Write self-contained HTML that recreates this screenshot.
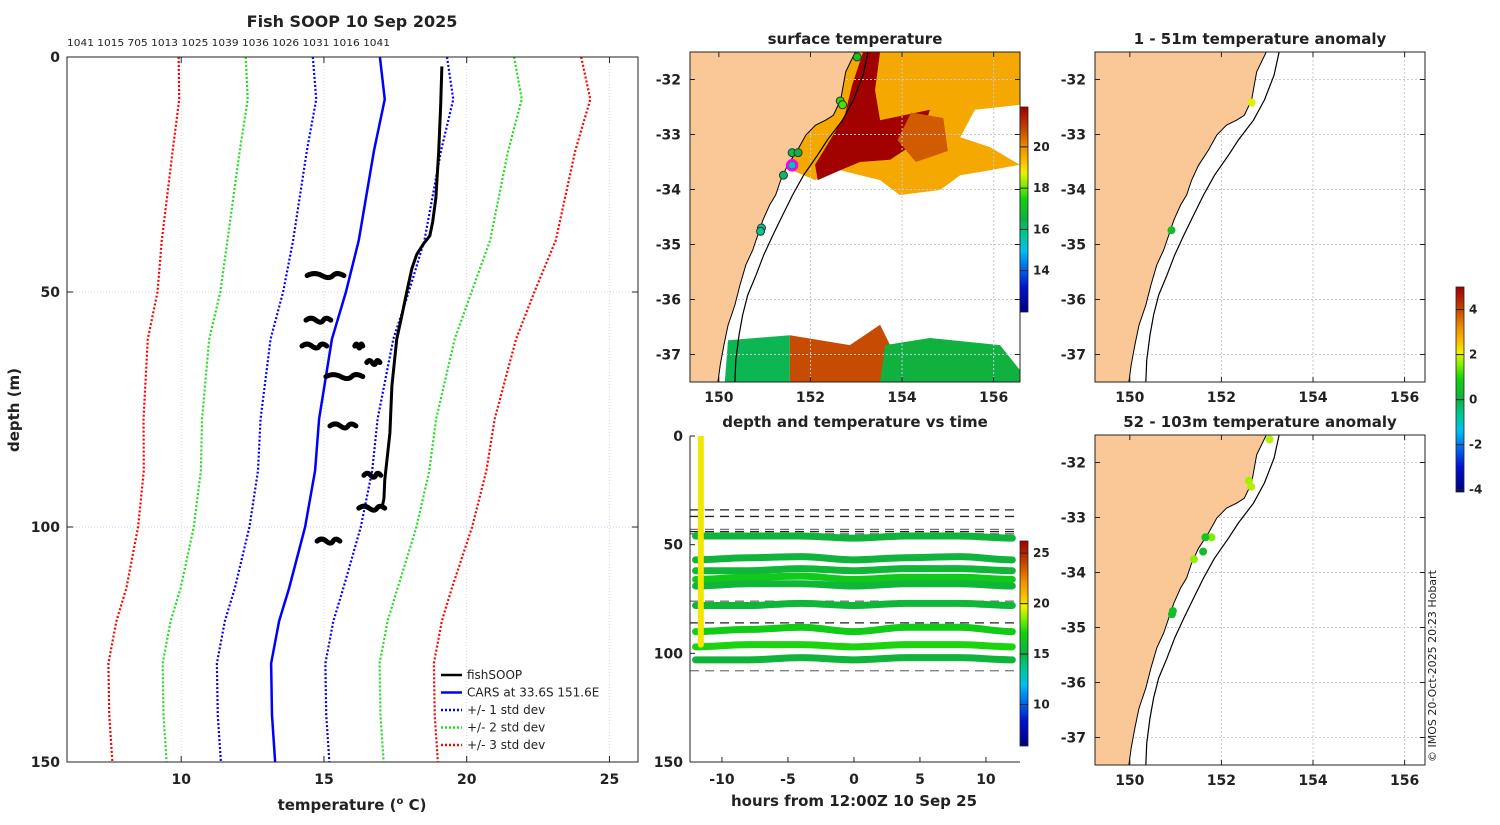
<!DOCTYPE html>
<html><head><meta charset="utf-8"><style>
body{margin:0;background:#fff}
svg text{font-family:"DejaVu Sans","Liberation Sans",sans-serif;font-weight:bold;fill:#222}
</style></head><body>
<svg id="fig" width="1500" height="820" viewBox="0 0 1500 820" xmlns="http://www.w3.org/2000/svg">
<defs>
<linearGradient id="cmap" x1="0" y1="1" x2="0" y2="0">
<stop offset="0" stop-color="#000080"/><stop offset="0.12" stop-color="#0010d0"/><stop offset="0.22" stop-color="#0070f0"/><stop offset="0.3" stop-color="#00c0f0"/><stop offset="0.38" stop-color="#00c890"/><stop offset="0.45" stop-color="#10b040"/><stop offset="0.55" stop-color="#10d010"/><stop offset="0.62" stop-color="#80f000"/><stop offset="0.68" stop-color="#f0f000"/><stop offset="0.73" stop-color="#f8c000"/><stop offset="0.8" stop-color="#f09000"/><stop offset="0.9" stop-color="#c04000"/><stop offset="1" stop-color="#a00000"/>
</linearGradient>
<clipPath id="c1"><rect x="690" y="52" width="330" height="330"/></clipPath>
<clipPath id="c2"><rect x="1095" y="52" width="330" height="330"/></clipPath>
<clipPath id="c3"><rect x="1095" y="435" width="330" height="330"/></clipPath>
<clipPath id="c4"><rect x="690" y="436" width="330" height="326"/></clipPath>
</defs>
<text x="352" y="27" font-size="16" text-anchor="middle">Fish SOOP 10 Sep 2025</text>
<text x="67" y="46" font-size="10" textLength="323" lengthAdjust="spacingAndGlyphs" style="font-weight:normal">1041 1015 705 1013 1025 1039 1036 1026 1031 1016 1041</text>
<g id="prof"></g>
<text x="855" y="44" font-size="15" text-anchor="middle">surface temperature</text>
<g id="sst"></g>
<text x="855" y="427" font-size="15" text-anchor="middle">depth and temperature vs time</text>
<g id="tplot"></g>
<text x="1260" y="44" font-size="15" text-anchor="middle">1 - 51m temperature anomaly</text>
<text x="1260" y="427" font-size="15" text-anchor="middle">52 - 103m temperature anomaly</text>
<g id="an1"></g>
<g id="an2"></g>
<g id="cbars"></g>
<text transform="translate(1436,762) rotate(-90)" font-size="11" style="font-weight:normal">© IMOS 20-Oct-2025 20:23 Hobart</text>
</svg>
<script>
// ---- profile data ----
const carsDepth=[0,9,20,39,50,60,77,88,100,113,120,129,140,150];
const carsTemp=[16.96,17.13,16.75,16.22,15.77,15.28,14.83,14.69,14.34,13.78,13.43,13.15,13.18,13.29];
const carsStd=[2.35,2.4,2.35,2.3,2.2,2.15,2.05,2.0,1.95,1.9,1.9,1.9,1.9,1.9];
const fishDepth=[2,10,20,30,35,38,40,42,45,50,55,60,70,80,90,94,96];
const fishTemp=[19.13,19.09,19.02,18.92,18.81,18.71,18.46,18.25,18.08,17.9,17.73,17.55,17.38,17.31,17.13,17.1,17.03];
const blobTmin=[14.41,14.37,14.23,16.08,15.07,16.5,15.21,16.4,16.22,14.76];
const blobTmax=[15.70,15.24,15.10,16.36,16.36,16.96,16.12,16.99,17.13,15.56];
const blobDepth=[46.5,56,61.5,61.5,68,65,78.5,89,96,103];
const tempTicks=[10,15,20,25];
const depthTicks=[0,50,100,150];
// ---- time plot data ----
const bandHours=[-12,-8,-4,0,4,8,12];
const bandDepths=[[46,46,46,47,46,46,47],[57,56,55.5,57,56,55.5,57],[62,62,61,62,61,61,62],[66,65,64.5,66,65,65,66],[69,68,68,69,68,68,69],[78,78,77,78,77,77,78],[90,89,88,90,88,88,90],[97,96,96,97,96,96,97],[103,103,102,103,102,102,103]];
const bandTemps=[15.3,15.2,15.4,16.6,15.4,15.4,16.8,17.2,15.3];
const dashDepths=[34,37,43,44,45,76,86,108];
const dashDark=[1,1,0,1,0,0,1,0];
const hourTicks=[-10,-5,0,5,10];
// ---- map data ----
const coastLon=[152.98,152.77,152.66,152.5,152.33,152.11,151.9,151.72,151.5,151.35,151.24,151.11,150.96,150.85,150.74,150.59,150.46,150.35,150.2,150.11,150.03,149.98];
const coastLat=[-31.5,-31.86,-32.37,-32.65,-32.74,-32.83,-33.01,-33.28,-33.56,-33.83,-34.1,-34.28,-34.56,-34.83,-35.1,-35.37,-35.74,-36.1,-36.47,-36.83,-37.19,-37.5];
const shelfLon=[153.26,153.15,152.94,152.7,152.37,152.16,151.85,151.61,151.39,151.18,150.98,150.81,150.63,150.52,150.44,150.37,150.35];
const shelfLat=[-31.5,-31.92,-32.37,-32.74,-33.1,-33.37,-33.74,-34.1,-34.47,-34.83,-35.19,-35.56,-35.92,-36.28,-36.65,-37.1,-37.5];
const sstRegionLon=[[152.4,156.57,156.57,155.92,155.27,154.83,153.95,153.52,152.65,152.1,151.6,151.5,151.9,152.2],[155.59,156.57,156.57,155.92,155.27],[153.15,153.52,153.41,153.52,154.61,154.39,153.74,153.08,152.65,152.16,152.1,152.43,152.75,152.91],[154.2,154.9,155.0,154.3,153.9],[150.2,151.55,151.55,150.13],[151.55,152.86,153.52,153.74,153.52,151.55],[153.63,154.61,156.14,156.57,156.57,153.52]];
const sstRegionLat=[[-31.5,-31.5,-33.55,-33.65,-33.74,-34.01,-34.1,-33.83,-33.65,-33.83,-33.65,-33.4,-33.0,-32.5],[-32.55,-32.46,-33.55,-33.23,-33.05],[-31.5,-31.5,-32.19,-32.74,-32.55,-33.1,-33.46,-33.5,-33.65,-33.83,-33.55,-33.1,-32.65,-32.1],[-32.6,-32.7,-33.3,-33.5,-33.1],[-36.74,-36.65,-37.5,-37.5],[-36.65,-36.83,-36.46,-36.83,-37.5,-37.5],[-36.83,-36.7,-36.83,-37.28,-37.5,-37.5]];
const sstRegionTemp=[19.6,null,21.9,20.6,16.3,20.8,16.5];
const sstDotLon=[153.02,152.65,152.7,151.6,151.73,151.6,151.41,150.93,150.91];
const sstDotLat=[-31.59,-32.39,-32.46,-33.33,-33.33,-33.56,-33.74,-34.7,-34.76];
const sstDotTemp=[17.2,17.6,17.8,16.3,16.5,15.5,16.2,15.8,15.8];
const an1Lon=[152.66,150.91]; const an1Lat=[-32.42,-34.74]; const an1Val=[2.0,0.4];
const an2Lon=[153.05,152.6,152.65,151.78,151.65,151.6,151.4,150.94,150.92];
const an2Lat=[-31.58,-32.33,-32.44,-33.36,-33.36,-33.62,-33.76,-34.7,-34.76];
const an2Val=[1.8,1.7,1.8,1.5,0.6,0.3,1.6,0.4,0.4];
const latTicks=[-32,-33,-34,-35,-36,-37];
const lonTicks=[150,152,154,156];

const NS='http://www.w3.org/2000/svg';
function mk(parent,tag,attrs){const e=document.createElementNS(NS,tag);for(const k in attrs)e.setAttribute(k,attrs[k]);parent.appendChild(e);return e;}
const stops=[[0,[0,0,128]],[0.12,[0,16,208]],[0.22,[0,112,240]],[0.3,[0,192,240]],[0.38,[0,200,144]],[0.45,[16,176,64]],[0.55,[16,208,16]],[0.62,[128,240,0]],[0.68,[240,240,0]],[0.73,[248,192,0]],[0.8,[240,144,0]],[0.9,[192,64,0]],[1,[160,0,0]]];
function cmap(f){f=Math.max(0,Math.min(1,f));for(let i=1;i<stops.length;i++){if(f<=stops[i][0]){const a=stops[i-1],b=stops[i],t=(f-a[0])/(b[0]-a[0]);return 'rgb('+a[1].map((v,j)=>Math.round(v+(b[1][j]-v)*t)).join(',')+')';}}return 'rgb(160,0,0)';}

// ===== profile plot =====
const P=document.getElementById('prof');
const px=t=>67+(t-6)*(571/20), py=d=>57+d*(705/150);
tempTicks.forEach(t=>{const g=mk(P,'line',{x1:px(t),x2:px(t),y1:57,y2:762,stroke:'#d8d0e8','stroke-dasharray':'1,2','stroke-width':1});
});
depthTicks.slice(1,3).forEach(d=>{const g=mk(P,'line',{x1:67,x2:638,y1:py(d),y2:py(d),stroke:'#c8d0f0','stroke-dasharray':'1,2'});
});
function line(pts,attrs,name){const e=mk(P,'polyline',Object.assign({points:pts.map(p=>p.join(',')).join(' '),fill:'none'},attrs));return e;}
[[3,'#ff0000','std3'],[2,'#22dd22','std2'],[1,'#0000ff','std1']].forEach(([k,c,n])=>{
[-1,1].forEach(s=>{line(carsDepth.map((d,i)=>[px(carsTemp[i]+s*k*carsStd[i]),py(d)]),{stroke:c,'stroke-width':2.2,'stroke-dasharray':'2,2'},n+(s<0?'-lower':'-upper')+'-line');});});
line(carsDepth.map((d,i)=>[px(carsTemp[i]),py(d)]),{stroke:'#0000ff','stroke-width':2.5},'cars-mean-line');
line(fishDepth.map((d,i)=>[px(fishTemp[i]),py(d)]),{stroke:'#000','stroke-width':3},'fishsoop-line');
blobDepth.forEach((d,i)=>{const a=px(blobTmin[i]),b=px(blobTmax[i]),y=py(d);
const e=mk(P,'path',{d:`M${a},${y} q${(b-a)*0.2},-4 ${(b-a)*0.4},0 t${(b-a)*0.3},0 t${(b-a)*0.3},0`,stroke:'#000','stroke-width':5,fill:'none','stroke-linecap':'round'});
});
mk(P,'rect',{x:67,y:57,width:571,height:705,fill:'none',stroke:'#222','stroke-width':1});
tempTicks.forEach(t=>{mk(P,'line',{x1:px(t),x2:px(t),y1:762,y2:756,stroke:'#222'});mk(P,'line',{x1:px(t),x2:px(t),y1:57,y2:63,stroke:'#222'});
const e=mk(P,'text',{x:px(t),y:784,'font-size':14,'text-anchor':'middle'});e.textContent=t;});
depthTicks.forEach(d=>{mk(P,'line',{x1:67,x2:73,y1:py(d),y2:py(d),stroke:'#222'});mk(P,'line',{x1:632,x2:638,y1:py(d),y2:py(d),stroke:'#222'});
const e=mk(P,'text',{x:60,y:py(d)+5,'font-size':14,'text-anchor':'end'});e.textContent=d;});
let t=mk(P,'text',{x:352,y:810,'font-size':15,'text-anchor':'middle'});t.innerHTML='temperature (<tspan font-size="10" dy="-6">o</tspan><tspan dy="6"> C)</tspan>';

t=mk(P,'text',{transform:'translate(19,410) rotate(-90)','font-size':15,'text-anchor':'middle'});t.textContent='depth (m)';

[['fishSOOP','#000',''],['CARS at 33.6S 151.6E','#0000ff',''],['+/- 1 std dev','#0000ff','2,2'],['+/- 2 std dev','#22dd22','2,2'],['+/- 3 std dev','#ff0000','2,2']].forEach(([lab,c,da],i)=>{
const y=675+i*17.5;const g=mk(P,'g',{});
mk(g,'line',{x1:441,x2:462,y1:y,y2:y,stroke:c,'stroke-width':2.5,'stroke-dasharray':da||'none'});
const e=mk(g,'text',{x:467,y:y+4,'font-size':12,style:'font-weight:normal'});e.textContent=lab;});

// ===== maps =====
function drawMap(G,x0,y0,lonMin,clip,opts){
const mx=l=>x0+(l-lonMin)*45.8, my=a=>y0+(-31.5-a)*55;
const C=mk(G,'g',{'clip-path':'url(#'+clip+')'});
if(opts.sst){sstRegionLon.forEach((lons,i)=>{const tv=sstRegionTemp[i];
const e=mk(C,'polygon',{points:lons.map((l,j)=>mx(l)+','+my(sstRegionLat[i][j])).join(' '),fill:tv===null?'#fff':cmap((tv-12)/9.93)});
});}
lonTicks.forEach(l=>{mk(C,'line',{x1:mx(l),x2:mx(l),y1:y0,y2:y0+330,stroke:'#c8c8e0','stroke-dasharray':'2,2'});});
latTicks.forEach(a=>{mk(C,'line',{x1:x0,x2:x0+330,y1:my(a),y2:my(a),stroke:'#c8c8e0','stroke-dasharray':'2,2'});});
const land=coastLon.map((l,i)=>mx(l)+','+my(coastLat[i]));land.push(x0+','+(y0+330),x0+','+y0);
let e=mk(C,'polygon',{points:land.join(' '),fill:'#fac896',stroke:'#000','stroke-width':1});
e=mk(C,'polyline',{points:shelfLon.map((l,i)=>mx(l)+','+my(shelfLat[i])).join(' '),fill:'none',stroke:'#000','stroke-width':1.2});

opts.dots.lon.forEach((l,i)=>{const d=mk(C,'circle',{cx:mx(l),cy:my(opts.dots.lat[i]),r:4,fill:opts.dots.col[i],stroke:opts.sst?'#333':'none','stroke-width':1});
});
if(opts.sst){const r=mk(C,'circle',{cx:mx(151.6),cy:my(-33.56),r:5,fill:'none',stroke:'#ff00ff','stroke-width':2.5});}
mk(G,'rect',{x:x0,y:y0,width:330,height:330,fill:'none',stroke:'#222'});
latTicks.forEach(a=>{mk(G,'line',{x1:x0,x2:x0+5,y1:my(a),y2:my(a),stroke:'#222'});mk(G,'line',{x1:x0+325,x2:x0+330,y1:my(a),y2:my(a),stroke:'#222'});
const t=mk(G,'text',{x:x0-9,y:my(a)+5,'font-size':14,'text-anchor':'end'});t.textContent=a;});
lonTicks.forEach(l=>{mk(G,'line',{x1:mx(l),x2:mx(l),y1:y0+330,y2:y0+325,stroke:'#222'});mk(G,'line',{x1:mx(l),x2:mx(l),y1:y0,y2:y0+5,stroke:'#222'});
const t=mk(G,'text',{x:mx(l),y:y0+350,'font-size':14,'text-anchor':'middle'});t.textContent=l;});
}
drawMap(document.getElementById('sst'),690,52,149.37,'c1',{sst:true,dots:{lon:sstDotLon,lat:sstDotLat,col:sstDotTemp.map(v=>cmap((v-12)/9.93))}});
drawMap(document.getElementById('an1'),1095,52,149.24,'c2',{dots:{lon:an1Lon,lat:an1Lat,col:an1Val.map(v=>cmap((v+4.1)/9.1))}});
drawMap(document.getElementById('an2'),1095,435,149.24,'c3',{dots:{lon:an2Lon,lat:an2Lat,col:an2Val.map(v=>cmap((v+4.1)/9.1))}});

// ===== time plot =====
const T=document.getElementById('tplot');
const tx=h=>690+(h+12.42)*13.2, ty=d=>436+d*(326/150);
const TC=mk(T,'g',{'clip-path':'url(#c4)'});
dashDepths.forEach((d,i)=>{const e=mk(TC,'line',{x1:690,x2:1020,y1:ty(d),y2:ty(d),stroke:dashDark[i]?'#222':'#777','stroke-width':1.3,'stroke-dasharray':'9,6'});
});
bandDepths.forEach((ds,i)=>{
let d='M'+tx(-12)+','+ty(ds[0]);for(let k=1;k<bandHours.length;k++){const h0=bandHours[k-1],h1=bandHours[k];d+=` C${tx((2*h0+h1)/3)},${ty(ds[k-1])} ${tx((h0+2*h1)/3)},${ty(ds[k])} ${tx(h1)},${ty(ds[k])}`;}
const e=mk(TC,'path',{d:d,fill:'none',stroke:cmap((bandTemps[i]-5.9)/20.3),'stroke-width':7,'stroke-linecap':'round'});
});
let v=mk(TC,'line',{x1:tx(-11.6),x2:tx(-11.6),y1:ty(0),y2:ty(96),stroke:cmap((19.9-5.9)/20.3),'stroke-width':6,'stroke-linecap':'round'});

mk(T,'line',{x1:690,x2:690,y1:436,y2:762,stroke:'#222'});mk(T,'line',{x1:690,x2:1020,y1:762,y2:762,stroke:'#222'});
hourTicks.forEach(h=>{mk(T,'line',{x1:tx(h),x2:tx(h),y1:762,y2:757,stroke:'#222'});const e=mk(T,'text',{x:tx(h),y:784,'font-size':14,'text-anchor':'middle'});e.textContent=h;});
depthTicks.forEach(d=>{mk(T,'line',{x1:690,x2:695,y1:ty(d),y2:ty(d),stroke:'#222'});const e=mk(T,'text',{x:683,y:ty(d)+5,'font-size':14,'text-anchor':'end'});e.textContent=d;});
t=mk(T,'text',{x:854,y:806,'font-size':15,'text-anchor':'middle'});t.textContent='hours from 12:00Z 10 Sep 25';

// ===== colorbars =====
const CB=document.getElementById('cbars');
function cbar(x,y0,y1,vmin,vmax,ticks,name){const g=mk(CB,'g',{});
mk(g,'rect',{x:x,y:y0,width:8,height:y1-y0,fill:'url(#cmap)',stroke:'#222','stroke-width':0.8});
ticks.forEach(v=>{const y=y1-(v-vmin)/(vmax-vmin)*(y1-y0);mk(g,'line',{x1:x,x2:x+8,y1:y,y2:y,stroke:'#222'});const e=mk(g,'text',{x:x+13,y:y+4,'font-size':12});e.textContent=v;});}
cbar(1020,107,312,12.0,21.93,[14,16,18,20],'sst-colorbar');
cbar(1020,541,746,5.9,26.2,[10,15,20,25],'time-colorbar');
cbar(1456,287,492,-4.1,5.0,[-4,-2,0,2,4],'anomaly-colorbar');
</script>
</body></html>
